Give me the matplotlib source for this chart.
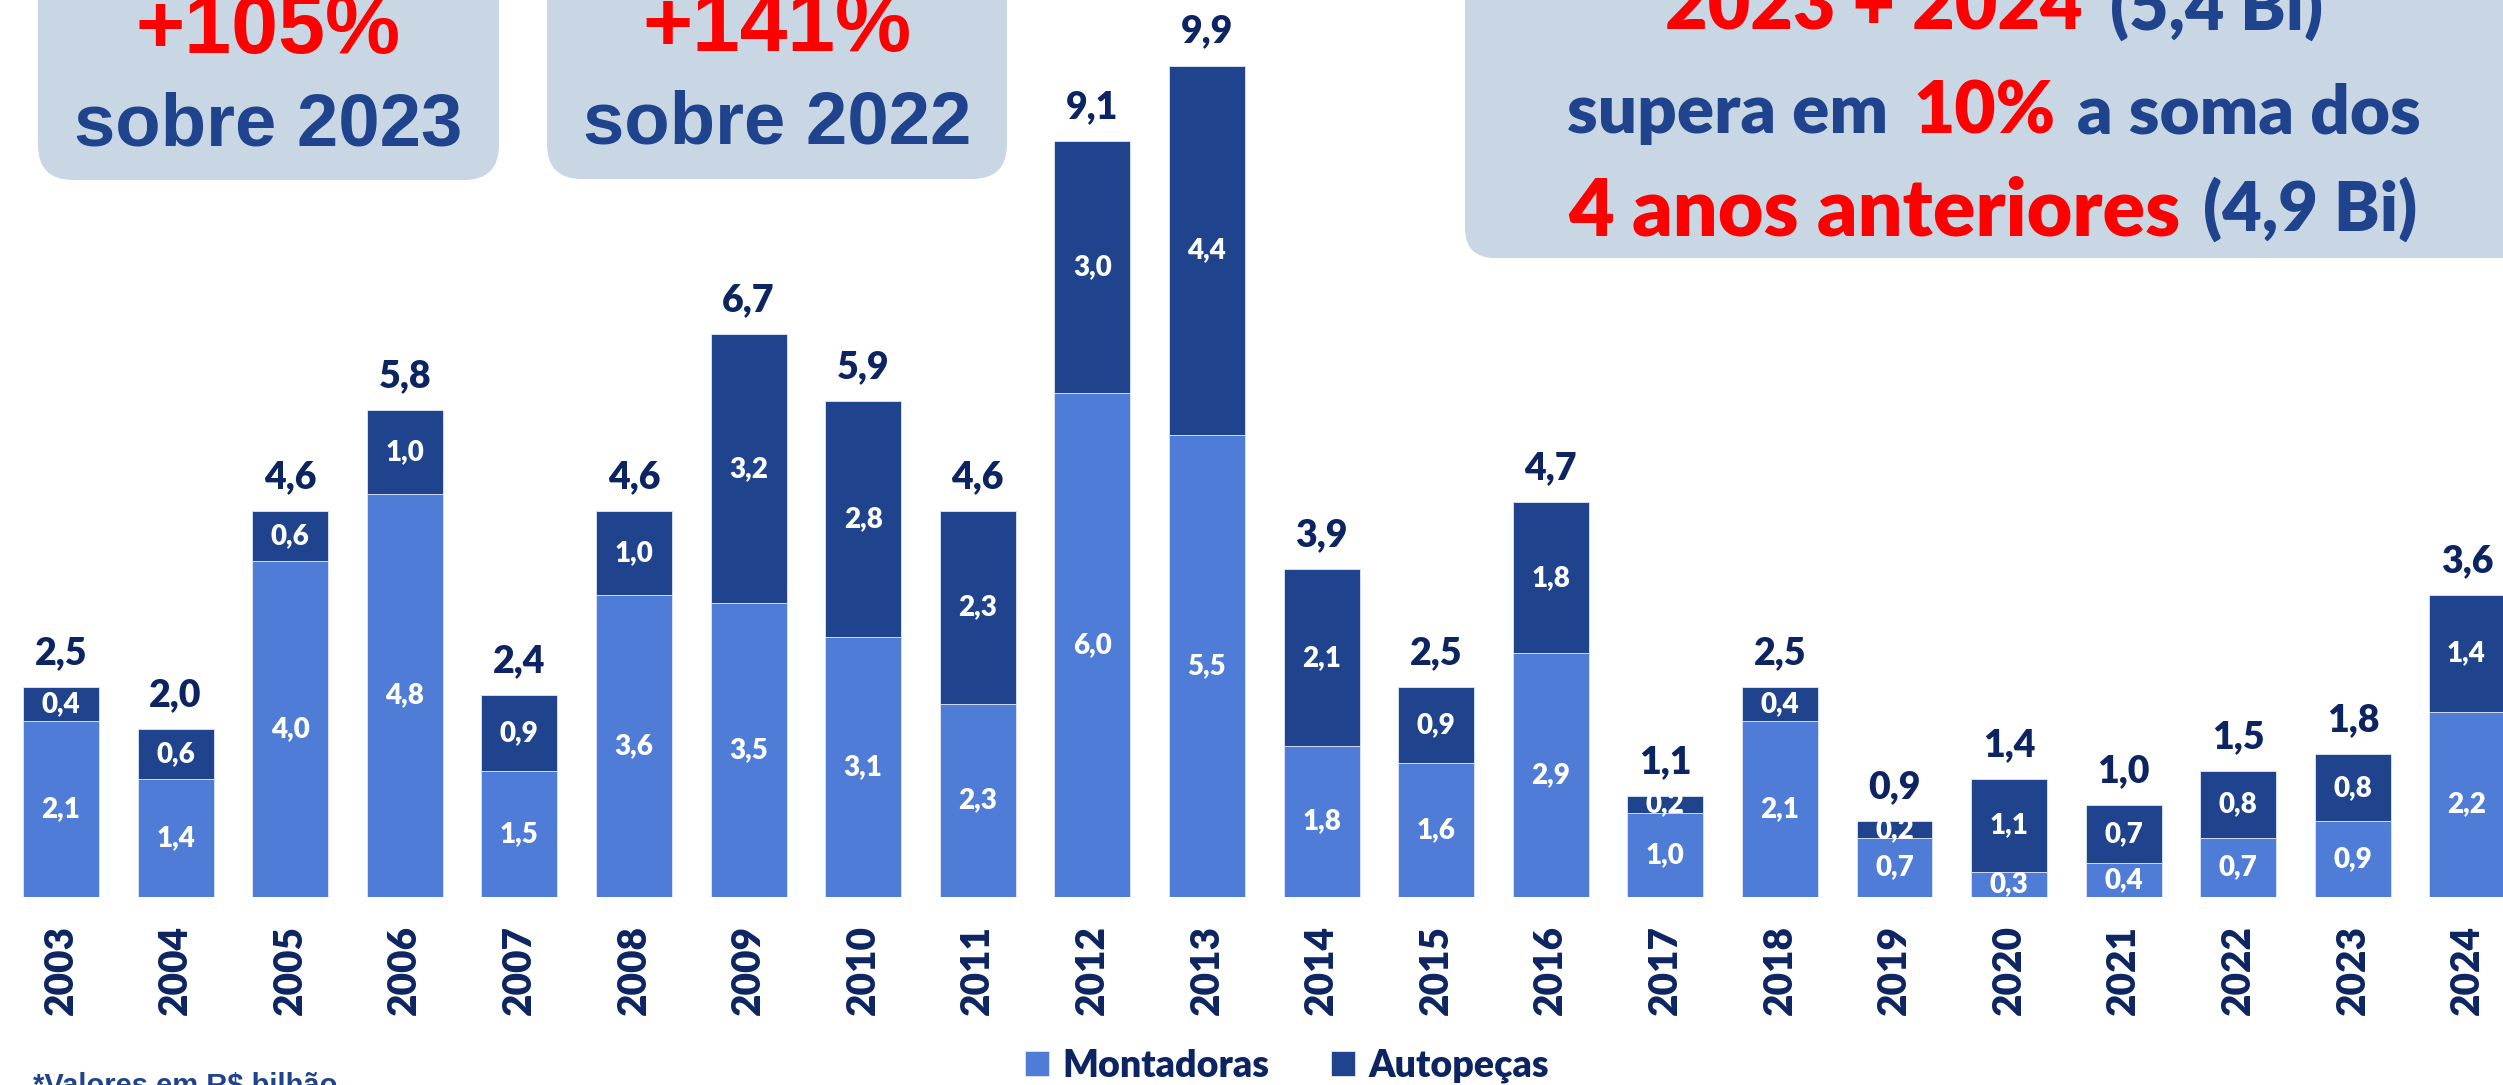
import numpy as np
import matplotlib
matplotlib.use("Agg")
import matplotlib.pyplot as plt
from matplotlib.patches import FancyBboxPatch
from matplotlib.transforms import IdentityTransform

anos = [str(a) for a in range(2003, 2025)]
montadoras = [2.1, 1.4, 4.0, 4.8, 1.5, 3.6, 3.5, 3.1, 2.3, 6.0, 5.5,
              1.8, 1.6, 2.9, 1.0, 2.1, 0.7, 0.3, 0.4, 0.7, 0.9, 2.2]
autopecas = [0.4, 0.6, 0.6, 1.0, 0.9, 1.0, 3.2, 2.8, 2.3, 3.0, 4.4,
             2.1, 0.9, 1.8, 0.2, 0.4, 0.2, 1.1, 0.7, 0.8, 0.8, 1.4]
totais = [2.5, 2.0, 4.6, 5.8, 2.4, 4.6, 6.7, 5.9, 4.6, 9.1, 9.9,
          3.9, 2.5, 4.7, 1.1, 2.5, 0.9, 1.4, 1.0, 1.5, 1.8, 3.6]

AZUL_CLARO = "#4E7CD6"
AZUL_ESCURO = "#1F438C"
MARINHO = "#0C2461"
VERMELHO = "#FF0000"
CAIXA = "#C9D7E5"
PESO = "heavy"

plt.rcParams["font.family"] = ["Lato", "DejaVu Sans"]

W, H = 2503, 1085
fig = plt.figure(figsize=(W / 100, H / 100), dpi=100)
renderer = fig.canvas.get_renderer()

def fmt(v):
    return f"{v:.1f}".replace(".", ",")

# ---- chart
ax = fig.add_axes([0, 188 / H, 1, 897 / H])
x = np.arange(len(anos))
b1 = ax.bar(x, montadoras, width=0.663, color=AZUL_CLARO, edgecolor="#dfe7f7",
            linewidth=0.6, label="Montadoras")
b2 = ax.bar(x, autopecas, width=0.663, bottom=montadoras, color=AZUL_ESCURO,
            edgecolor="#dfe7f7", linewidth=0.6, label="Autopeças")
ax.bar_label(b1, labels=[fmt(v) for v in montadoras], label_type="center",
             color="white", fontsize=20, fontweight=PESO)
ax.bar_label(b2, labels=[fmt(v) for v in autopecas], label_type="center",
             color="white", fontsize=20, fontweight=PESO)
topo = np.array(montadoras) + np.array(autopecas)
for xi, yi, t in zip(x, topo, totais):
    ax.annotate(fmt(t), (xi, yi), xytext=(0, 16.5), textcoords="offset points",
                ha="center", va="baseline", color=MARINHO, fontsize=27,
                fontweight=PESO)

ax.set_xlim(-0.532, 21.31)
ax.set_ylim(0, 10.68)
ax.set_xticks(x, anos, rotation=90)
ax.tick_params(axis="x", length=0, pad=20, labelsize=28, labelcolor=MARINHO)
for lab in ax.get_xticklabels():
    lab.set_fontweight(PESO)
ax.set_yticks([])
for s in ax.spines.values():
    s.set_visible(False)

# ---- legend
fig.legend(handles=[b1, b2], loc="center", bbox_to_anchor=(1287 / W, (H - 1066) / H),
           ncol=2, frameon=False, prop={"family": ["Lato", "DejaVu Sans"], "weight": PESO, "size": 27},
           labelcolor=MARINHO, handlelength=0.64, handleheight=0.64,
           handletextpad=0.35, columnspacing=1.65)

fig.text(33, H - 1094, "*Valores em R$ bilhão", transform=IdentityTransform(),
         ha="left", va="baseline", color=AZUL_ESCURO, fontsize=21,
         family=["Liberation Sans", "DejaVu Sans"], fontweight="bold")

# ---- callout boxes (pixel coords, y from top)
def caixa(x0, x1, y1, raio):
    p = FancyBboxPatch((x0, H - y1), x1 - x0, y1 + 100,
                       boxstyle=f"round,pad=0,rounding_size={raio}",
                       transform=IdentityTransform(), facecolor=CAIXA,
                       edgecolor="none")
    fig.add_artist(p)

def texto(x0, y, s, largura, cor, familia, ha="left", peso="bold"):
    t = fig.text(x0, H - y, s, transform=IdentityTransform(), ha=ha,
                 va="baseline", color=cor, family=familia, fontweight=peso,
                 fontsize=40)
    w = t.get_window_extent(renderer).width
    t.set_fontsize(40 * largura / w)
    return t

arial = ["Liberation Sans", "DejaVu Sans"]
lato = ["Lato", "DejaVu Sans"]

caixa(38, 499, 180, 35)
texto(268, 53, "+105%", 265, VERMELHO, arial, ha="center")
texto(268, 146, "sobre 2023", 388, AZUL_ESCURO, arial, ha="center")

caixa(547, 1007, 179, 35)
texto(777, 51, "+141%", 269, VERMELHO, arial, ha="center")
texto(777, 143, "sobre 2022", 388, AZUL_ESCURO, arial, ha="center")

caixa(1465, 2600, 258, 30)
texto(1665, 30, "2023 + 2024", 417, VERMELHO, lato, peso=PESO)
texto(2110, 30, "(5,4 Bi)", 213, AZUL_ESCURO, lato, peso=PESO)
texto(1567, 133, "supera em", 321, AZUL_ESCURO, lato, peso=PESO)
texto(1913, 133, "10%", 142, VERMELHO, lato, peso=PESO)
texto(2077, 133, "a soma dos", 344, AZUL_ESCURO, lato, peso=PESO)
texto(1568, 235, "4 anos anteriores", 612, VERMELHO, lato, peso=PESO)
texto(2203, 231, "(4,9 Bi)", 214, AZUL_ESCURO, lato, peso=PESO)

fig.savefig("out.png", dpi=100)
